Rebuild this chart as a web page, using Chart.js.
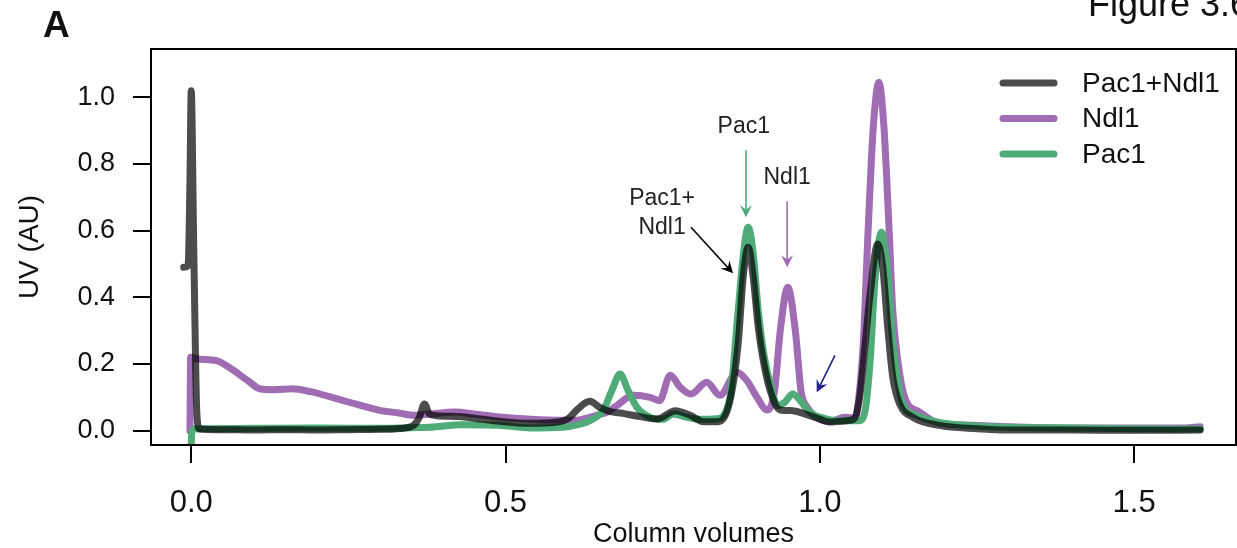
<!DOCTYPE html>
<html>
<head>
<meta charset="utf-8">
<style>
  html, body { margin: 0; padding: 0; background: #fff; }
  #wrap { width: 1237px; height: 548px; }
</style>
</head>
<body>
<div id="wrap"><canvas id="myChart"></canvas></div>
<script src="https://cdn.jsdelivr.net/npm/chart.js"></script>
<script>
// column volumes / UV absorbance
const complexCV = [-0.012, -0.005, -0.002, 0.000, 0.004, 0.009, 0.013, 0.05, 0.10, 0.15, 0.20, 0.25, 0.30, 0.34, 0.355, 0.363, 0.371, 0.379, 0.39, 0.43, 0.46, 0.49, 0.54, 0.58, 0.60, 0.615, 0.634, 0.65, 0.665, 0.687, 0.714, 0.741, 0.77, 0.793, 0.815, 0.838, 0.857, 0.870, 0.878, 0.886, 0.894, 0.902, 0.910, 0.921, 0.937, 0.957, 0.973, 0.995, 1.016, 1.043, 1.055, 1.064, 1.072, 1.080, 1.092, 1.100, 1.108, 1.116, 1.127, 1.148, 1.19, 1.25, 1.30, 1.40, 1.50, 1.605];
const complexUV = [0.49, 0.495, 0.75, 1.02, 0.55, 0.05, 0.005, 0.003, 0.002, 0.003, 0.002, 0.003, 0.004, 0.008, 0.018, 0.04, 0.08, 0.05, 0.045, 0.042, 0.035, 0.028, 0.022, 0.025, 0.037, 0.065, 0.088, 0.07, 0.058, 0.052, 0.042, 0.035, 0.06, 0.047, 0.027, 0.027, 0.09, 0.26, 0.46, 0.55, 0.46, 0.31, 0.21, 0.12, 0.062, 0.06, 0.052, 0.038, 0.026, 0.03, 0.037, 0.11, 0.26, 0.41, 0.56, 0.49, 0.31, 0.16, 0.08, 0.04, 0.016, 0.006, 0.002, 0.002, 0.001, 0.002];

const ndl1CV = [-0.002, -0.001, 0.01, 0.04, 0.06, 0.09, 0.11, 0.13, 0.16, 0.19, 0.22, 0.25, 0.30, 0.33, 0.355, 0.38, 0.42, 0.45, 0.49, 0.54, 0.59, 0.61, 0.645, 0.661, 0.677, 0.703, 0.73, 0.745, 0.762, 0.778, 0.795, 0.82, 0.841, 0.868, 0.884, 0.90, 0.916, 0.928, 0.937, 0.949, 0.961, 0.970, 0.980, 0.995, 1.016, 1.04, 1.056, 1.062, 1.069, 1.077, 1.085, 1.094, 1.102, 1.110, 1.116, 1.124, 1.135, 1.159, 1.186, 1.243, 1.30, 1.40, 1.50, 1.58, 1.605];
const ndl1UV = [0.0, 0.22, 0.215, 0.21, 0.19, 0.15, 0.125, 0.123, 0.126, 0.117, 0.102, 0.086, 0.061, 0.053, 0.046, 0.05, 0.056, 0.05, 0.041, 0.034, 0.031, 0.031, 0.046, 0.055, 0.075, 0.106, 0.1, 0.09, 0.166, 0.13, 0.11, 0.145, 0.106, 0.175, 0.15, 0.10, 0.062, 0.12, 0.30, 0.43, 0.30, 0.12, 0.07, 0.04, 0.028, 0.04, 0.038, 0.1, 0.26, 0.61, 0.91, 1.045, 0.91, 0.61, 0.36, 0.21, 0.10, 0.056, 0.025, 0.016, 0.012, 0.008, 0.008, 0.008, 0.012];

const pac1CV = [0.0, 0.001, 0.01, 0.1, 0.2, 0.3, 0.35, 0.38, 0.43, 0.49, 0.54, 0.59, 0.62, 0.634, 0.655, 0.669, 0.682, 0.695, 0.709, 0.73, 0.75, 0.767, 0.789, 0.81, 0.836, 0.857, 0.870, 0.879, 0.886, 0.894, 0.902, 0.910, 0.921, 0.933, 0.944, 0.957, 0.971, 0.984, 1.005, 1.032, 1.062, 1.072, 1.080, 1.088, 1.098, 1.107, 1.115, 1.123, 1.132, 1.154, 1.19, 1.25, 1.30, 1.40, 1.50, 1.605];
const pac1UV = [-0.04, 0.0, 0.006, 0.007, 0.008, 0.007, 0.009, 0.01, 0.018, 0.016, 0.008, 0.01, 0.02, 0.03, 0.06, 0.12, 0.17, 0.12, 0.07, 0.04, 0.034, 0.05, 0.04, 0.034, 0.036, 0.10, 0.36, 0.54, 0.61, 0.53, 0.36, 0.24, 0.14, 0.075, 0.085, 0.11, 0.085, 0.055, 0.038, 0.03, 0.03, 0.06, 0.21, 0.46, 0.595, 0.49, 0.29, 0.16, 0.08, 0.046, 0.025, 0.014, 0.01, 0.008, 0.006, 0.005];

const seriesNames = ['Pac1+Ndl1', 'Ndl1', 'Pac1'];
const cvTicks = [0.0, 0.5, 1.0, 1.5];
const uvTicks = [0.0, 0.2, 0.4, 0.6, 0.8, 1.0];

// labels and arrows, in data units
const notes = [
  { text: 'Pac1', x: 0.879, y: 0.913 },
  { text: 'Ndl1', x: 0.948, y: 0.760 },
  { text: 'Pac1+', x: 0.749, y: 0.697 },
  { text: 'Ndl1', x: 0.749, y: 0.610 }
];
const arrows = [
  { from: [0.8825, 0.841], to: [0.8825, 0.640], color: '#4fac78' },
  { from: [0.948, 0.688], to: [0.948, 0.490], color: '#a06db4' },
  { from: [0.795, 0.610], to: [0.862, 0.472], color: '#000000' },
  { from: [1.024, 0.226], to: [0.995, 0.115], color: '#23238c' }
];

const SANS = '"Liberation Sans", Arial, sans-serif';

function toXY(xs, ys) { return xs.map((v, i) => ({ x: v, y: ys[i] })); }

function drawArrow(ctx, x1, y1, x2, y2, color) {
  const ang = Math.atan2(y2 - y1, x2 - x1);
  const L = 12, W = 6;
  ctx.strokeStyle = color;
  ctx.fillStyle = color;
  ctx.lineWidth = 1.6;
  ctx.beginPath();
  ctx.moveTo(x1, y1);
  ctx.lineTo(x2 - L * 0.6 * Math.cos(ang), y2 - L * 0.6 * Math.sin(ang));
  ctx.stroke();
  ctx.save();
  ctx.translate(x2, y2);
  ctx.rotate(ang);
  ctx.beginPath();
  ctx.moveTo(0, 0);
  ctx.lineTo(-L, -W);
  ctx.lineTo(-L * 0.65, 0);
  ctx.lineTo(-L, W);
  ctx.closePath();
  ctx.fill();
  ctx.restore();
}

const decor = {
  id: 'decor',
  afterDraw(chart) {
    const { ctx, chartArea: a, scales: { x, y } } = chart;
    ctx.save();
    // frame
    ctx.strokeStyle = '#000';
    ctx.lineWidth = 2;
    ctx.strokeRect(a.left, a.top, a.right - a.left, a.bottom - a.top);

    // panel letter and figure caption
    ctx.fillStyle = '#111';
    ctx.textAlign = 'left';
    ctx.textBaseline = 'alphabetic';
    ctx.font = 'bold 37px ' + SANS;
    ctx.fillText('A', 43, 37);
    ctx.font = '36px ' + SANS;
    ctx.fillText('Figure 3.6', 1088, 16);

    // legend
    chart.data.datasets.forEach((ds, i) => {
      const ly = a.top + 34 + i * 35.5;
      ctx.strokeStyle = ds.borderColor;
      ctx.lineWidth = 7;
      ctx.lineCap = 'round';
      ctx.beginPath();
      ctx.moveTo(a.right - 233, ly);
      ctx.lineTo(a.right - 182, ly);
      ctx.stroke();
      ctx.fillStyle = '#111';
      ctx.font = '28px ' + SANS;
      ctx.textBaseline = 'middle';
      ctx.fillText(ds.label, a.right - 154, ly + 1);
    });

    // annotations
    ctx.lineCap = 'butt';
    ctx.font = '23px ' + SANS;
    ctx.fillStyle = '#222';
    ctx.textAlign = 'center';
    ctx.textBaseline = 'middle';
    notes.forEach(n => ctx.fillText(n.text, x.getPixelForValue(n.x), y.getPixelForValue(n.y)));
    arrows.forEach(r => drawArrow(ctx,
      x.getPixelForValue(r.from[0]), y.getPixelForValue(r.from[1]),
      x.getPixelForValue(r.to[0]), y.getPixelForValue(r.to[1]), r.color));
    ctx.restore();
  }
};

new Chart(document.getElementById('myChart'), {
  type: 'line',
  data: {
    datasets: [
      { label: seriesNames[0], data: toXY(complexCV, complexUV), borderColor: 'rgba(0,0,0,0.7)', order: 0 },
      { label: seriesNames[1], data: toXY(ndl1CV, ndl1UV), borderColor: '#a06db4', order: 2 },
      { label: seriesNames[2], data: toXY(pac1CV, pac1UV), borderColor: '#4fac78', order: 1 }
    ]
  },
  options: {
    responsive: true,
    maintainAspectRatio: false,
    animation: false,
    devicePixelRatio: 1,
    layout: { padding: { top: 49, right: 1, left: 0, bottom: 0 } },
    plugins: { legend: { display: false }, tooltip: { enabled: false } },
    elements: {
      point: { radius: 0 },
      line: { borderWidth: 7, cubicInterpolationMode: 'monotone', borderCapStyle: 'round', borderJoinStyle: 'round' }
    },
    scales: {
      x: {
        type: 'linear',
        min: -0.064,
        max: 1.662,
        afterFit: s => { s.height = 103; },
        afterBuildTicks: s => { s.ticks = cvTicks.map(v => ({ value: v })); },
        border: { display: false },
        grid: { drawOnChartArea: false, drawTicks: true, tickLength: 18, color: '#000', lineWidth: 2 },
        ticks: {
          color: '#111', padding: 22, maxRotation: 0, autoSkip: false,
          font: { family: SANS, size: 31 },
          callback: v => v.toFixed(1)
        },
        title: {
          display: true, text: 'Column volumes', color: '#111',
          font: { family: SANS, size: 27, lineHeight: 1 },
          padding: { top: 0, bottom: 0 }
        }
      },
      y: {
        min: -0.043,
        max: 1.145,
        afterFit: s => { s.width = 151; },
        afterBuildTicks: s => { s.ticks = uvTicks.map(v => ({ value: v })); },
        border: { display: false },
        grid: { drawOnChartArea: false, drawTicks: true, tickLength: 18, color: '#000', lineWidth: 2 },
        ticks: {
          color: '#111', padding: 18,
          font: { family: SANS, size: 27 },
          callback: v => v.toFixed(1)
        },
        title: {
          display: true, text: 'UV (AU)', color: '#111',
          font: { family: SANS, size: 28, lineHeight: 1 },
          padding: { top: 16, bottom: 0 }
        }
      }
    }
  },
  plugins: [decor]
});
</script>
</body>
</html>
